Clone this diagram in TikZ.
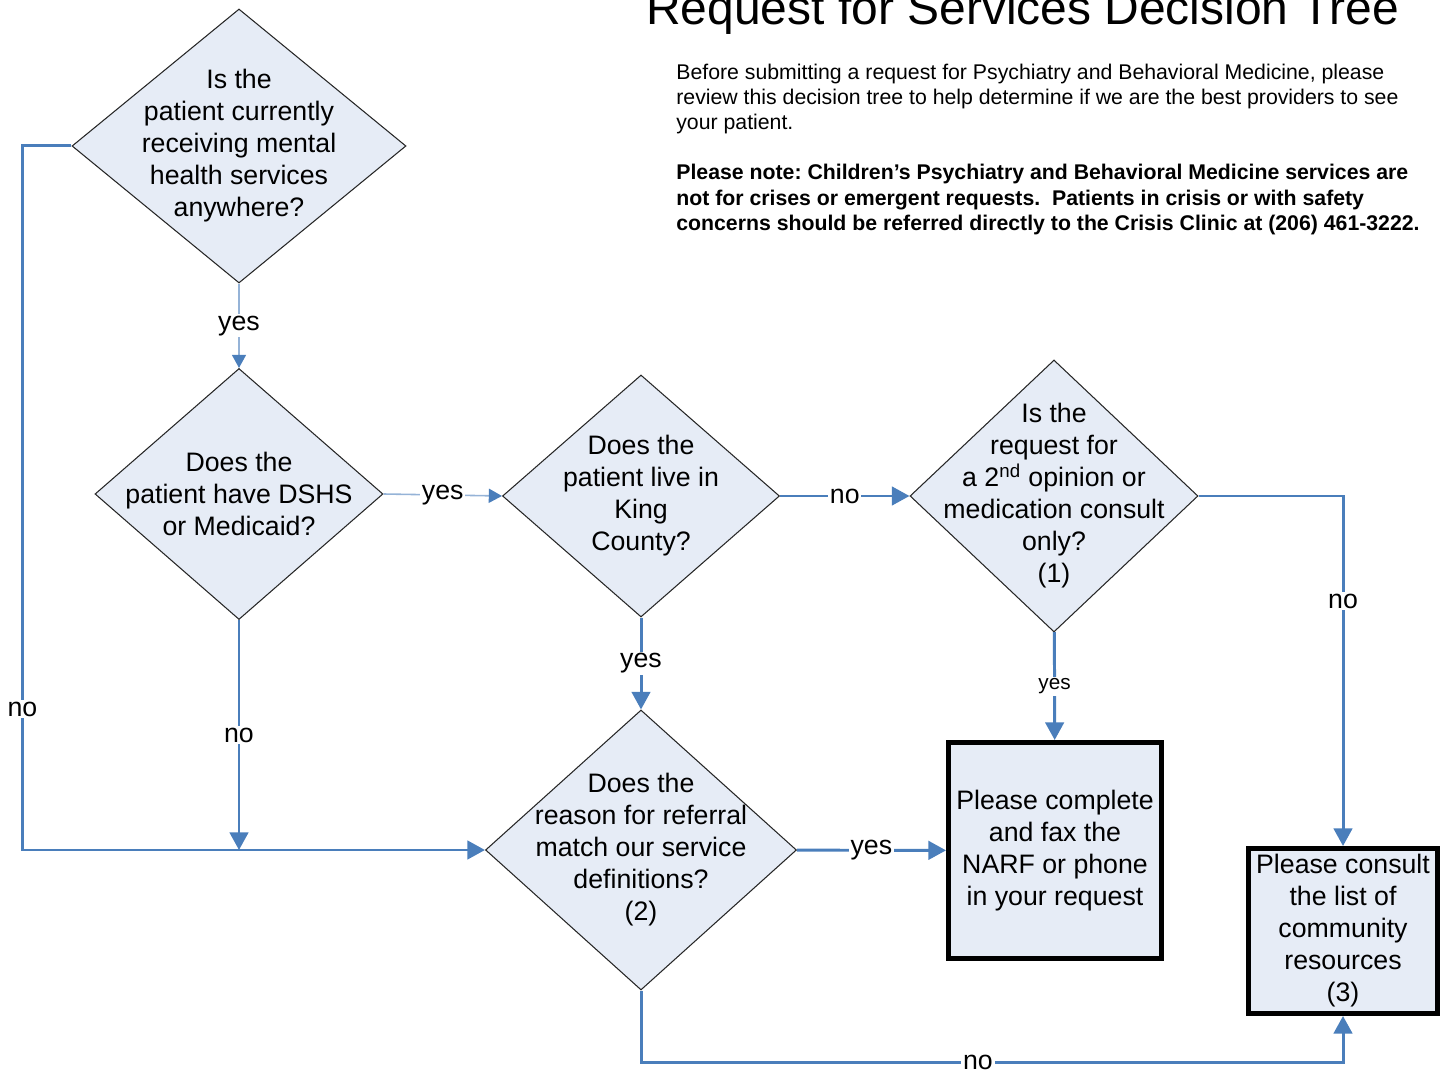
\documentclass[tikz,border=0pt]{standalone}
\usepackage{fontspec}
\setmainfont{Liberation Sans}
\usetikzlibrary{arrows.meta, shapes.geometric, positioning}
\definecolor{flowblue}{HTML}{4A7EBB}
\definecolor{flowlight}{HTML}{95B3D7}
\definecolor{qfill}{HTML}{E6ECF6}
\frenchspacing

\begin{document}
\begin{tikzpicture}[
      dec/.style={diamond, draw=black!85, line width=0.6pt, fill=qfill, inner sep=-1cm,
                  align=center, font=\fontsize{15.2}{18.2}\selectfont},
      outbox/.style={draw=black, line width=1mm, fill=qfill, inner sep=2pt,
                  align=center, font=\fontsize{15.2}{18.2}\selectfont},
      arr/.style={-{Triangle[length=10pt, width=10.5pt]}, line width=1.7pt, flowblue},
      arrthin/.style={-{Triangle[length=7.5pt, width=8pt, color=flowblue]}, line width=0.9pt, flowlight},
      lbl/.style={fill=white, inner sep=1pt, text=black, font=\fontsize{15.2}{18.2}\selectfont}
    ]
    \useasboundingbox (0,0) rectangle (28.9,-21.46);

    % --- Heading and notes ---
    \node[anchor=base, font=\fontsize{27.3}{32}\selectfont] (title) at (20.45,-0.5)
      {Request for Services Decision Tree};
    \node[anchor=north west, inner sep=0pt, align=left, font=\fontsize{12.1}{14.4}\selectfont]
      (intro) at (13.52,-1.27)
      {Before submitting a request for Psychiatry and Behavioral Medicine, please\\
       review this decision tree to help determine if we are the best providers to see\\
       your patient.};
    \node[anchor=north west, inner sep=0pt, align=left, font=\fontsize{12.1}{14.4}\selectfont\bfseries]
      (note) at (13.52,-3.28)
      {Please note: Children’s Psychiatry and Behavioral Medicine services are\\
       not for crises or emergent requests.\ \ Patients in crisis or with safety\\
       concerns should be referred directly to the Crisis Clinic at (206) 461-3222.};

    % --- Questions ---
    \node[dec, minimum width=6.68cm, minimum height=5.48cm] (cur) at (4.78,-2.92)
      {Is the\\patient currently\\receiving mental\\health services\\anywhere?};
    \node[dec, minimum width=5.76cm, minimum height=5.02cm] (dshs) at (4.78,-9.88)
      {Does the\\patient have DSHS\\or Medicaid?};
    \node[dec, minimum width=5.54cm, minimum height=4.84cm] (king) at (12.82,-9.92)
      {Does the\\patient live in\\King\\County?};
    \node[dec, minimum width=5.76cm, minimum height=5.44cm] (second) at (21.08,-9.92)
      {Is the\\request for\\a 2\textsuperscript{nd} opinion or\\medication consult\\only?\\(1)};
    \node[dec, minimum width=6.22cm, minimum height=5.6cm] (reason) at (12.82,-17)
      {Does the\\reason for referral\\match our service\\definitions?\\(2)};

    % --- Outcomes ---
    \node[outbox, minimum width=4.26cm, minimum height=4.32cm] (narf) at (21.1,-17.01)
      {Please complete\\and fax the\\NARF or phone\\in your request};
    \node[outbox, minimum width=3.78cm, minimum height=3.3cm] (comm) at (26.86,-18.62)
      {Please consult\\the list of\\community\\resources\\(3)};

    \coordinate (join) at (dshs.south |- reason.west);

    % --- Connectors ---
    \draw[arrthin] (cur) -- node[lbl] {yes} (dshs);
    \draw[arrthin] (dshs.east) -- node[lbl] {yes} (king.west);
    \draw[arr] (dshs) -- node[lbl] {no} (join);
    \draw[arr] (cur.west) -- ++(-0.98,0) |- node[lbl, pos=0.4] {no} (reason.west);
    \draw[arr] (king) -- node[lbl] {yes} (reason);
    \draw[arr] (king) -- node[lbl] {no} (second);
    \draw[arr] (second) -- node[lbl, font=\fontsize{11.8}{14}\selectfont] {yes} (narf);
    \draw[arr] (second.east) -| node[lbl, pos=0.65] {no} (comm.north);
    \draw[arr] (reason) -- node[lbl] {yes} (narf);
    \draw[arr] (reason.south) -- ++(0,-1.44) -| node[lbl, pos=0.24] {no} (comm.south);

  \end{tikzpicture}
\end{document}
